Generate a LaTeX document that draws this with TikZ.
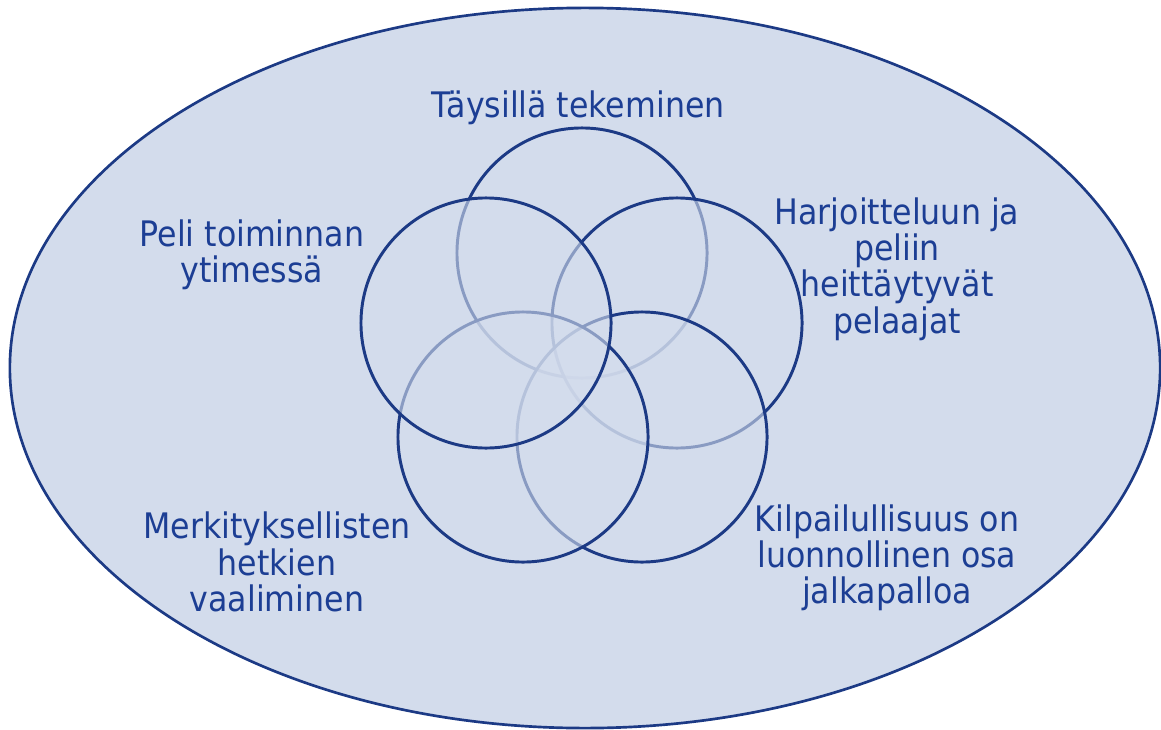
\documentclass[tikz,border=0pt]{standalone}
\usepackage{fontspec}
\setmainfont{DejaVu Sans Condensed}
\usepackage{tikz}
\usetikzlibrary{positioning}
\definecolor{pale}{RGB}{211,220,236}
\definecolor{navy}{RGB}{28,58,133}
\definecolor{ink}{RGB}{28,62,148}

\begin{document}
\begin{tikzpicture}[
  x=0.025cm, y=-0.025cm,
  ring/.style={circle, draw=navy, line width=2.1pt, fill=pale,
    fill opacity=0.6, draw opacity=1, minimum size=6.25cm, inner sep=0pt},
  label/.style={text=ink, align=center, inner sep=0pt,
    font=\fontsize{25}{25.8}\selectfont}
]
\useasboundingbox (0,0) rectangle (1161,729);

% outer ellipse
\draw[navy, line width=1.9pt, fill=pale] (585,368) ellipse [x radius=14.375cm, y radius=9cm];

% five rings, later ones lying over the earlier
\node[ring] (top) at (582,253) {};
\node[ring] (rgt) at (677,323) {};
\node[ring] (brt) at (642,437) {};
\node[ring] (blf) at (523,437) {};
\node[ring] (lft) at (486,323) {};

% texts
\node[label] (ttop) at (578,108) {Täysillä tekeminen};
\node[label] (tlft) at (252,255) {Peli toiminnan\\ytimessä};
\node[label] (trgt) at (897,269) {Harjoitteluun ja\\peliin\\heittäytyvät\\pelaajat};
\node[label] (tblf) at (277,562) {Merkityksellisten\\hetkien\\vaaliminen};
\node[label] (tbrt) at (887,558) {Kilpailullisuus on\\luonnollinen osa\\jalkapalloa};
\end{tikzpicture}
\end{document}
